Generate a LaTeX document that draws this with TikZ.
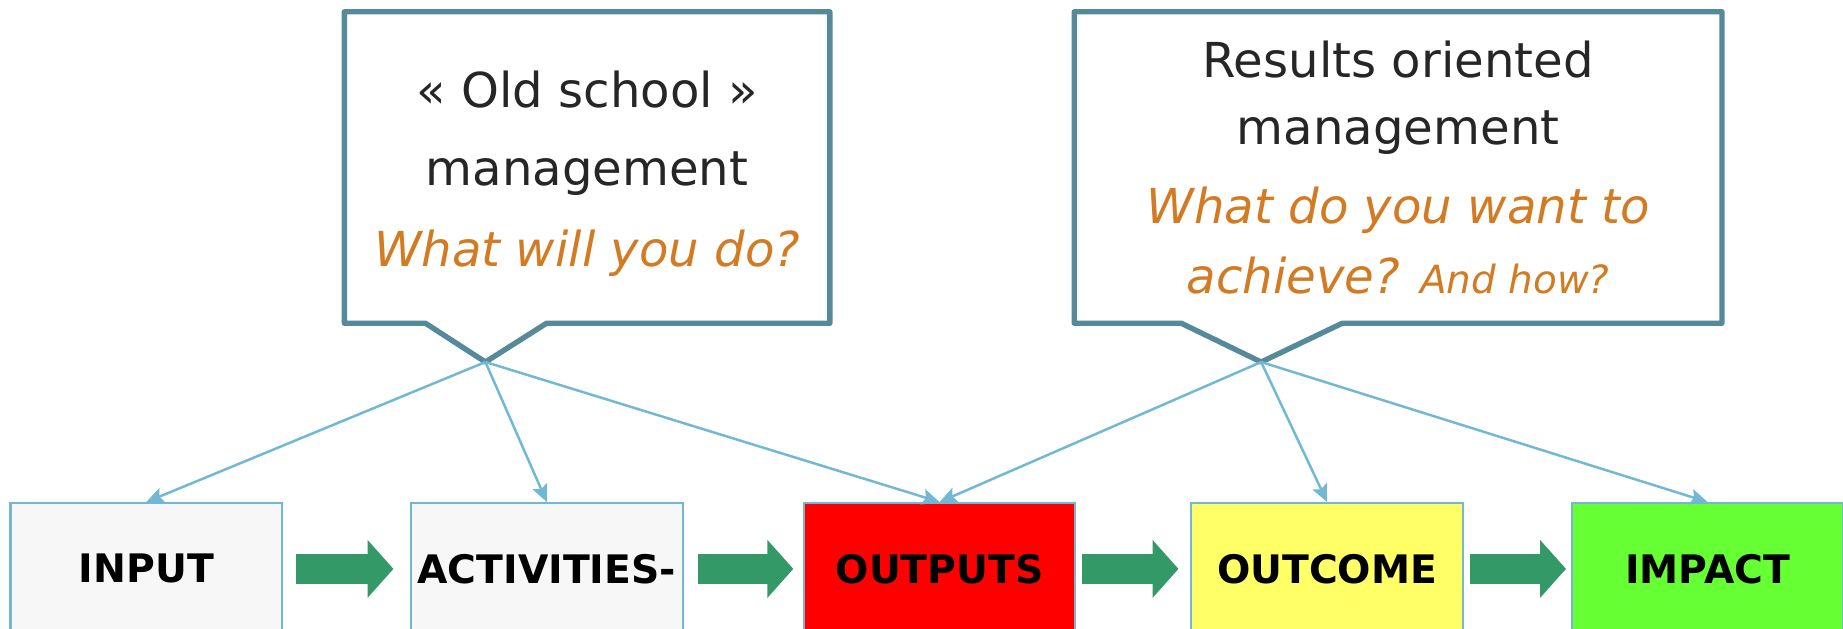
\documentclass[tikz,border=0pt]{standalone}
\usepackage{fontspec}
\setmainfont{DejaVu Sans}
\usepackage{tikz}
\usetikzlibrary{arrows, arrows.meta}
\definecolor{bubbleblue}{HTML}{568A9B}
\definecolor{linkblue}{HTML}{72B8D4}
\definecolor{darktext}{HTML}{262626}
\definecolor{askorange}{HTML}{D27B22}
\definecolor{flowgreen}{HTML}{339966}
\definecolor{paleface}{HTML}{F7F7F7}
\definecolor{outred}{HTML}{FF0000}
\definecolor{outyellow}{HTML}{FFFF66}
\definecolor{outgreen}{HTML}{66FF33}
\tikzstyle{stage} = [rectangle, minimum width=2.31cm, minimum height=1.12cm, inner xsep=0pt, text centered, draw=linkblue, line width=0.5pt, font=\fontsize{9.5}{11}\selectfont\bfseries, fill=paleface]
\tikzstyle{bubble} = [draw=bubbleblue, line width=1.3pt, line join=round, fill=white]
\tikzstyle{bubbletext} = [align=center, text=darktext, font=\fontsize{11.65}{16.5}\selectfont]
\tikzstyle{pointer} = [->, >={Stealth[length=4.2pt, width=3.8pt, inset=0.8pt]}, draw=linkblue, line width=0.6pt]
\tikzstyle{flow} = [-{Triangle[length=0.22cm, width=0.48cm]}, draw=flowgreen, line width=0.25cm]

\begin{document}
\begin{tikzpicture}[x=0.01cm, y=-0.01cm, node distance=3.3cm]
\useasboundingbox (0,0) rectangle (1568,535);
\draw [bubble] (293,10) -- (706,10) -- (706,275) -- (465,275) -- (413,308) coordinate (oldtip) -- (362,275) -- (293,275) -- cycle;
\draw [bubble] (914,10) -- (1465,10) -- (1465,275) -- (1142,275) -- (1073,308) coordinate (newtip) -- (1005,275) -- (914,275) -- cycle;
\node (oldtext) [bubbletext] at (499.5,148) {«~Old school~»\\[2.3pt] management\\[3.2pt] {\color{askorange}\itshape What will you do?}};
\node (newtext) [bubbletext] at (1189.5,142.5) {Results oriented\\[-0.2pt] management\\[2.6pt] {\color{askorange}\itshape What do you want to}\\[0.3pt] {\color{askorange}\itshape achieve? {\fontsize{9.4}{11}\selectfont And how?}}};

\node (input) [stage] at (124.5,484) {INPUT};
\node (activities) [stage, right of=input, xshift=0.105cm] {ACTIVITIES-};
\node (outputs) [stage, right of=activities, xshift=0.04cm, fill=outred] {OUTPUTS};
\node (outcome) [stage, right of=outputs, xshift=-0.005cm, fill=outyellow] {OUTCOME};
\node (impact) [stage, right of=outcome, xshift=-0.065cm, fill=outgreen] {IMPACT};

\draw [flow, shorten <=0.11cm, shorten >=0.14cm] (input) -- (activities);
\draw [flow, shorten <=0.12cm, shorten >=0.08cm] (activities) -- (outputs);
\draw [flow, shorten <=0.05cm, shorten >=0.10cm] (outputs) -- (outcome);
\draw [flow, shorten <=0.05cm, shorten >=0.04cm] (outcome) -- (impact);

\draw [pointer] (oldtip) -- (input.north);
\draw [pointer] (oldtip) -- (activities.north);
\draw [pointer] (oldtip) -- (outputs.north);
\draw [pointer] (newtip) -- (outputs.north);
\draw [pointer] (newtip) -- (outcome.north);
\draw [pointer] (newtip) -- (impact.north);
\end{tikzpicture}
\end{document}
